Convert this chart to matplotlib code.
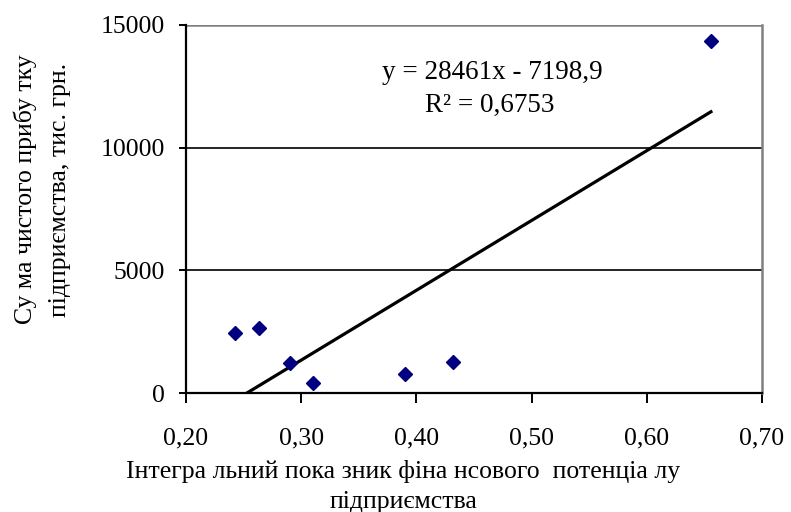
import matplotlib.pyplot as plt
import numpy as np

# Дані
potentsial = [0.2425, 0.2636, 0.290, 0.3105, 0.390, 0.432, 0.6557]
prybutok = [2458, 2662, 1211, 395, 762, 1276, 14350]

# Лінійний тренд, як на рисунку
nakhyl = 28461
zsuv = -7198.9
r2 = 0.6753

x_ticks = [0.20, 0.30, 0.40, 0.50, 0.60, 0.70]
x_tick_labels = ["0,20", "0,30", "0,40", "0,50", "0,60", "0,70"]
y_ticks = [0, 5000, 10000, 15000]

plt.rcParams['font.family'] = ['Liberation Serif', 'DejaVu Serif']

fig = plt.figure(figsize=(7.91, 5.12), dpi=100)
ax = fig.add_axes([0.2351, 0.2324, 0.7282, 0.7188])

# Сітка
for yv in [5000, 10000]:
    ax.axhline(yv, color='black', lw=1.2, zorder=1)
ax.axhline(15000, color='#808080', lw=1.8, zorder=1)

# Тренд
xt = np.array([min(potentsial), max(potentsial)])
ax.plot(xt, nakhyl * xt + zsuv, color='black', lw=2.3, zorder=2)

# Точки
ax.plot(potentsial, prybutok, linestyle='none', marker='D', ms=7.5,
        color='#000080', zorder=3)

ax.set_xlim(0.20, 0.70)
ax.set_ylim(0, 15000)
ax.set_xticks(x_ticks)
ax.set_xticklabels(x_tick_labels)
ax.set_yticks(y_ticks)

ax.spines['top'].set_visible(False)
ax.spines['right'].set_color('#808080')
ax.spines['right'].set_linewidth(1.8)
ax.spines['left'].set_linewidth(1.6)
ax.spines['bottom'].set_linewidth(1.6)

ax.tick_params(axis='x', direction='out', length=7, width=1.4, labelsize=18.5, pad=18)
ax.tick_params(axis='y', direction='out', length=5, width=1.4, labelsize=18.5, pad=10)

ax.text(0.4656, 13045, "y = 28461x - 7198,9", ha='center', va='center', fontsize=19.5)
ax.text(0.4639, 11740, "R² = 0,6753", ha='center', va='center', fontsize=19.5)

fig.text(0.032, 0.63, "Су ма чистого прибу тку", rotation=90,
         ha='center', va='center', fontsize=18.5)
fig.text(0.076, 0.63, "підприємства, тис. грн.", rotation=90,
         ha='center', va='center', fontsize=18.5)

fig.text(0.51, 0.080, "Інтегра льний пока зник фіна нсового  потенціа лу",
         ha='center', va='center', fontsize=18.5)
fig.text(0.51, 0.020, "підприємства", ha='center', va='center', fontsize=18.5)

plt.savefig("out.png", dpi=100)
